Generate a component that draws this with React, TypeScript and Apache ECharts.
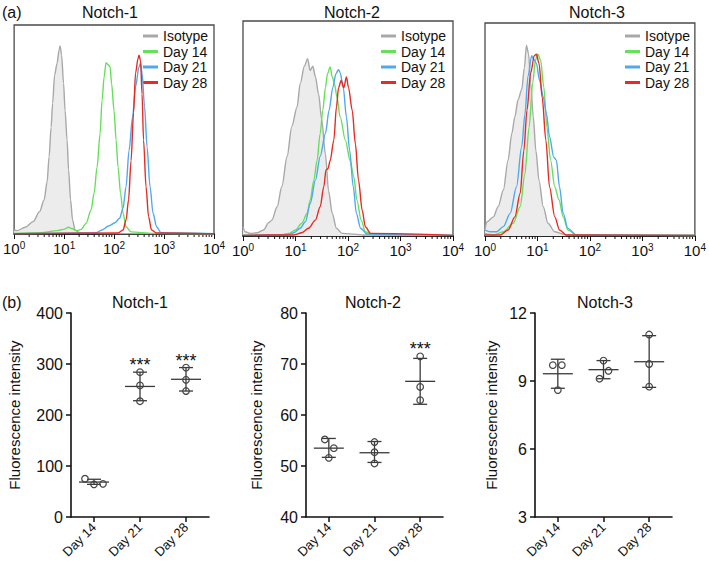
import React, { useEffect, useRef } from 'react';
import * as echarts from 'echarts';

const FONT = '"Liberation Sans", Arial, Helvetica, sans-serif';

// ---------- (a) flow cytometry histograms: [log10 fluorescence, % of max] ----------
const seriesNames = ['Isotype', 'Day 14', 'Day 21', 'Day 28'];
const seriesColors = ['#a8a8a8', '#66e05a', '#4fa8f0', '#e82a22'];
const panelTitles = ['Notch-1', 'Notch-2', 'Notch-3'];
const decadeTicks = [0, 1, 2, 3, 4];

const n1Isotype = [[0, 1.9], [0.06, 1.6], [0.22, 3.2], [0.38, 5.9], [0.51, 10.7], [0.6, 16.3], [0.66, 25], [0.7, 37], [0.74, 51], [0.77, 62.5], [0.81, 76], [0.86, 81.7], [0.9, 88], [0.92, 90], [0.95, 85.6], [0.99, 72], [1.02, 59], [1.06, 45], [1.09, 30.6], [1.13, 16.3], [1.17, 6.7], [1.22, 1.9], [1.31, 0.6], [1.82, 0.2], [4, 0.1]];
const n1Day14 = [[0, 0.3], [0.54, 0.6], [0.86, 1.6], [0.99, 2.2], [1.09, 3.2], [1.15, 2.6], [1.25, 1.6], [1.34, 2.2], [1.44, 5.1], [1.54, 11.5], [1.6, 19.5], [1.66, 32], [1.72, 48], [1.76, 64], [1.8, 75], [1.84, 82], [1.88, 81], [1.92, 80], [1.95, 72], [2.0, 59], [2.04, 45], [2.08, 32], [2.13, 19.5], [2.18, 10], [2.24, 3.5], [2.34, 1], [2.78, 0.3], [4, 0.1]];
const n1Day21 = [[0, 0.1], [1.63, 0.5], [1.76, 1.9], [1.89, 3.8], [2.02, 5.4], [2.11, 7.5], [2.18, 12.3], [2.24, 22.6], [2.3, 40], [2.37, 56], [2.43, 70.5], [2.5, 80], [2.53, 81.7], [2.56, 77], [2.61, 61], [2.66, 41.8], [2.72, 22.6], [2.78, 9.9], [2.85, 3.5], [2.94, 0.6], [4, 0.1]];
const n1Day28 = [[0, 0.1], [2.08, 0.5], [2.18, 1.9], [2.24, 6.7], [2.29, 16.3], [2.34, 35], [2.39, 58], [2.43, 77], [2.48, 84], [2.5, 85.6], [2.53, 83], [2.56, 67], [2.59, 45], [2.64, 22.6], [2.69, 8.3], [2.75, 1.9], [2.85, 0.5], [4, 0.1]];

const n2Isotype = [[0, 4.3], [0.04, 2], [0.14, 1.2], [0.27, 1.5], [0.39, 2.8], [0.49, 6.2], [0.55, 7.4], [0.65, 13.6], [0.74, 23], [0.84, 37], [0.93, 51], [1.03, 60], [1.09, 71], [1.17, 79], [1.23, 82.5], [1.28, 77], [1.33, 79], [1.38, 74], [1.44, 66], [1.5, 54], [1.57, 38], [1.63, 21], [1.7, 10.5], [1.78, 3.6], [1.89, 1.2], [2.3, 0.5], [4, 0.3]];
const n2Day14 = [[0, 0.3], [0.71, 0.5], [0.87, 1.2], [1.0, 2.8], [1.12, 5.9], [1.22, 10.5], [1.28, 16.7], [1.35, 26], [1.41, 35], [1.47, 47.7], [1.52, 58.5], [1.57, 69], [1.61, 75.5], [1.66, 78.6], [1.7, 74], [1.74, 71], [1.79, 64.7], [1.85, 55.4], [1.95, 44.6], [2.04, 35], [2.11, 27.6], [2.17, 16.7], [2.25, 7.4], [2.33, 2], [2.49, 0.5], [4, 0.3]];
const n2Day21 = [[0, 0.3], [0.84, 0.5], [0.97, 1.5], [1.09, 3.6], [1.19, 6.7], [1.28, 15], [1.38, 26], [1.47, 37], [1.57, 47.7], [1.64, 58.5], [1.71, 69], [1.77, 75.5], [1.82, 77.4], [1.85, 76], [1.91, 69], [1.97, 55.4], [2.03, 40], [2.1, 23], [2.16, 10.5], [2.24, 3.6], [2.36, 0.9], [4, 0.3]];
const n2Day28 = [[0, 0.3], [0.97, 0.5], [1.12, 1.5], [1.25, 3.6], [1.38, 7.4], [1.47, 13.6], [1.54, 23], [1.58, 30.7], [1.62, 31.4], [1.66, 35], [1.73, 44.6], [1.78, 60], [1.82, 69], [1.87, 72.4], [1.92, 69], [1.97, 74], [2.01, 69], [2.08, 58.5], [2.14, 43], [2.2, 26], [2.27, 12], [2.33, 4.3], [2.43, 1.2], [4, 0.3]];

const n3Isotype = [[0, 3], [0.04, 6.7], [0.16, 9], [0.25, 13.8], [0.35, 21.6], [0.44, 35.6], [0.51, 48], [0.57, 56], [0.63, 64], [0.7, 68.8], [0.75, 79], [0.79, 89.5], [0.83, 85.6], [0.87, 72], [0.92, 56], [0.97, 40], [1.03, 26], [1.11, 13.8], [1.2, 6], [1.33, 2], [1.55, 0.5], [4, 0.2]];
const n3Day14 = [[0, 1.2], [0.16, 0.5], [0.35, 2], [0.54, 6], [0.67, 13.8], [0.76, 29], [0.84, 51], [0.91, 72], [0.96, 82.5], [1.01, 85.3], [1.06, 82.5], [1.12, 70], [1.18, 51], [1.25, 35.6], [1.33, 23], [1.41, 17], [1.49, 9], [1.58, 2.8], [1.74, 0.5], [4, 0.2]];
const n3Day21 = [[0, 2.8], [0.1, 2], [0.22, 2], [0.35, 4.4], [0.48, 10.6], [0.6, 23], [0.7, 42], [0.76, 57], [0.82, 75], [0.89, 84.7], [0.93, 83], [0.98, 81], [1.04, 73], [1.11, 65.3], [1.17, 57.5], [1.23, 46.6], [1.31, 37], [1.36, 35.6], [1.42, 23], [1.49, 10.6], [1.58, 3.6], [1.74, 0.5], [4, 0.2]];
const n3Day28 = [[0, 0.5], [0.29, 0.5], [0.44, 2.8], [0.57, 9], [0.67, 20], [0.74, 40], [0.8, 59], [0.87, 76.5], [0.94, 84.7], [0.98, 85.3], [1.03, 81], [1.09, 65], [1.16, 45], [1.23, 23], [1.33, 9], [1.42, 2.8], [1.55, 0.5], [4, 0.2]];

const histPanels = [
  [n1Isotype, n1Day14, n1Day21, n1Day28],
  [n2Isotype, n2Day14, n2Day21, n2Day28],
  [n3Isotype, n3Day14, n3Day21, n3Day28],
];

// ---------- (b) fluorescence intensity dot plots ----------
const days = ['Day 14', 'Day 21', 'Day 28'];

const n1Points = [[75, 64, 65], [284, 258, 227], [293, 269, 247]];
const n1Mean = [68.5, 256, 270];
const n1Low = [64, 228, 247];
const n1High = [74, 284, 293];
const n1Sig = ['', '***', '***'];

const n2Points = [[55.2, 53.5, 51.6], [54.7, 52.7, 50.5], [71.5, 65.5, 62.9]];
const n2Mean = [53.5, 52.6, 66.6];
const n2Low = [51.7, 50.7, 62.1];
const n2High = [55.4, 54.8, 71.1];
const n2Sig = ['', '', '***'];

const n3Points = [[9.7, 9.7, 8.6], [9.9, 9.45, 9.1], [11.05, 9.75, 8.75]];
const n3Mean = [9.32, 9.5, 9.85];
const n3Low = [8.68, 9.1, 8.72];
const n3High = [9.96, 9.9, 11.0];
const n3Sig = ['', '', ''];

const n1Ticks = { min: 0, max: 400, interval: 100 };
const n2Ticks = { min: 40, max: 80, interval: 10 };
const n3Ticks = { min: 3, max: 12, interval: 3 };

// horizontal scatter of the open circles around each category (px)
const n1Jitter = [[-9, 0, 9], [0, 0, 0], [0, 0, 0]];
const n2Jitter = [[-4, 5, 0], [0, 0, 0], [0, 0, 0]];
const n3Jitter = [[-5, 4, 0], [0, 5, -4], [0, 0, 0]];

const dotPanels = [
  { points: n1Points, mean: n1Mean, low: n1Low, high: n1High, sig: n1Sig, ticks: n1Ticks, jitter: n1Jitter },
  { points: n2Points, mean: n2Mean, low: n2Low, high: n2High, sig: n2Sig, ticks: n2Ticks, jitter: n2Jitter },
  { points: n3Points, mean: n3Mean, low: n3Low, high: n3High, sig: n3Sig, ticks: n3Ticks, jitter: n3Jitter },
];

// ---------- layout ----------
const topGrids = [
  { left: 5, top: 25, width: 209, height: 209 },
  { left: 243, top: 21, width: 210, height: 215 },
  { left: 485, top: 23, width: 211, height: 213 },
];
const topTitleX = [110, 352, 597];
const legendLeft = [143, 381, 625];
const bottomGrids = [
  { left: 71, top: 313, width: 138, height: 204 },
  { left: 306, top: 313, width: 137, height: 204 },
  { left: 535, top: 313, width: 137, height: 204 },
];
const bottomTitleX = [140, 373, 605];
const yNameGap = [49, 42, 36];

export default function App() {
  const ref = useRef<HTMLDivElement>(null);

  useEffect(() => {
    const chart = echarts.init(ref.current!, null, { renderer: 'svg' });

    const minorTicks: number[] = [];
    for (let d = 0; d < 4; d++) {
      for (let k = 2; k <= 9; k++) minorTicks.push(d + Math.log10(k));
    }

    const grids: any[] = [];
    const xAxes: any[] = [];
    const yAxes: any[] = [];
    const series: any[] = [];
    const legends: any[] = [];

    // top histograms
    topGrids.forEach((g, i) => {
      grids.push({ ...g, show: true, borderColor: '#4a4a4a', borderWidth: 1.3, backgroundColor: 'transparent' });
      xAxes.push({
        type: 'value', gridIndex: i, min: 0, max: 4, interval: 1,
        axisLine: { show: true, lineStyle: { color: '#111', width: 1.5 } },
        axisTick: { show: true, length: 5, lineStyle: { color: '#111', width: 1 } },
        splitLine: { show: false },
        axisLabel: {
          margin: 6,
          formatter: (v: number) => (decadeTicks.includes(v) ? `{b|10}{s|${v}}` : ''),
          rich: {
            b: { fontSize: 15, fontFamily: FONT, color: '#111', lineHeight: 17 },
            s: { fontSize: 10, fontFamily: FONT, color: '#111', verticalAlign: 'top', lineHeight: 11 },
          },
        },
      });
      yAxes.push({ type: 'value', gridIndex: i, min: 0, max: 100, show: false });
      histPanels[i].forEach((data, s) => {
        series.push({
          type: 'line', name: seriesNames[s], xAxisIndex: i, yAxisIndex: i,
          data, symbol: 'none', showSymbol: false, smooth: 0.3, smoothMonotone: 'x',
          lineStyle: { color: seriesColors[s], width: 1.4 },
          itemStyle: { color: seriesColors[s] },
          areaStyle: s === 0 ? { color: '#ececec', opacity: 1 } : undefined,
          z: 2 + s, silent: true,
        });
      });
      series.push({
        type: 'custom', xAxisIndex: i, yAxisIndex: i, silent: true, clip: false,
        data: minorTicks.map((v) => [v, 0]),
        renderItem: (_p: any, api: any) => {
          const p = api.coord([api.value(0), 0]);
          return { type: 'line', shape: { x1: p[0], y1: p[1], x2: p[0], y2: p[1] + 3 }, style: { stroke: '#111', lineWidth: 1 } };
        },
      });
      legends.push({
        left: legendLeft[i], top: 29, orient: 'vertical', selectedMode: false, padding: 0,
        icon: 'rect', itemWidth: 15, itemHeight: 3, itemGap: 1.5,
        textStyle: { fontSize: 14, fontFamily: FONT, color: '#111', lineHeight: 14, padding: [0, 0, 0, 0] },
        data: seriesNames,
      });
    });

    // bottom dot plots
    dotPanels.forEach((p, k) => {
      const gi = 3 + k;
      grids.push({ ...bottomGrids[k] });
      xAxes.push({
        type: 'category', gridIndex: gi, data: days, boundaryGap: true,
        axisLine: { show: true, lineStyle: { color: '#111', width: 1.6 } },
        axisTick: { show: true, alignWithLabel: true, length: 5, lineStyle: { color: '#111', width: 1.5 } },
        axisLabel: { rotate: 45, fontSize: 13, fontFamily: FONT, color: '#111', margin: 8 },
      });
      yAxes.push({
        type: 'value', gridIndex: gi, min: p.ticks.min, max: p.ticks.max, interval: p.ticks.interval,
        name: 'Fluorescence intensity', nameLocation: 'middle', nameGap: yNameGap[k],
        nameTextStyle: { fontSize: 15, fontFamily: FONT, color: '#111' },
        axisLine: { show: true, lineStyle: { color: '#111', width: 1.6 } },
        axisTick: { show: true, length: 5, lineStyle: { color: '#111', width: 1.5 } },
        splitLine: { show: false },
        axisLabel: { fontSize: 16, fontFamily: FONT, color: '#111', margin: 8 },
      });
      // mean ± SD
      series.push({
        type: 'custom', xAxisIndex: gi, yAxisIndex: gi, silent: true, clip: false, z: 3,
        data: days.map((_d, j) => [j, p.mean[j], p.low[j], p.high[j]]),
        renderItem: (_pp: any, api: any) => {
          const x = api.value(0);
          const pm = api.coord([x, api.value(1)]);
          const pl = api.coord([x, api.value(2)]);
          const ph = api.coord([x, api.value(3)]);
          const st = { stroke: '#3a3a3a', lineWidth: 1.3 };
          return {
            type: 'group',
            children: [
              { type: 'line', shape: { x1: pl[0], y1: pl[1], x2: ph[0], y2: ph[1] }, style: st },
              { type: 'line', shape: { x1: pl[0] - 7, y1: pl[1], x2: pl[0] + 7, y2: pl[1] }, style: st },
              { type: 'line', shape: { x1: ph[0] - 7, y1: ph[1], x2: ph[0] + 7, y2: ph[1] }, style: st },
              { type: 'line', shape: { x1: pm[0] - 15, y1: pm[1], x2: pm[0] + 15, y2: pm[1] }, style: st },
            ],
          };
        },
      });
      // individual points
      const pts: number[][] = [];
      p.points.forEach((row, j) => row.forEach((v, m) => pts.push([j, v, p.jitter[j][m]])));
      series.push({
        type: 'custom', xAxisIndex: gi, yAxisIndex: gi, silent: true, clip: false, z: 4,
        data: pts,
        renderItem: (_pp: any, api: any) => {
          const c = api.coord([api.value(0), api.value(1)]);
          return { type: 'circle', shape: { cx: c[0] + api.value(2), cy: c[1], r: 3.3 }, style: { fill: 'rgba(255,255,255,0)', stroke: '#444', lineWidth: 1.2 } };
        },
      });
      // significance stars
      series.push({
        type: 'custom', xAxisIndex: gi, yAxisIndex: gi, silent: true, clip: false, z: 5,
        data: days.map((_d, j) => [j, Math.max(p.high[j], ...p.points[j])]),
        renderItem: (pp: any, api: any) => {
          const label = p.sig[pp.dataIndex];
          if (!label) return null;
          const c = api.coord([api.value(0), api.value(1)]);
          return {
            type: 'text', x: c[0], y: c[1] - 7,
            style: { text: label, fontSize: 18, fontFamily: FONT, fill: '#111', align: 'center', verticalAlign: 'middle' },
          };
        },
      });
    });

    const txt = (text: string, x: number, y: number, align: string, size = 16) => ({
      type: 'text', x, y,
      style: { text, fontSize: size, fontFamily: FONT, fill: '#111', align, verticalAlign: 'middle' },
    });

    const graphics: any[] = [
      txt('(a)', 2, 12, 'left'),
      txt('(b)', 2, 302, 'left'),
      ...panelTitles.map((t, i) => txt(t, topTitleX[i], 12, 'center')),
      ...panelTitles.map((t, i) => txt(t, bottomTitleX[i], 302, 'center')),
    ];

    chart.setOption({
      animation: false,
      backgroundColor: '#ffffff',
      textStyle: { fontFamily: FONT },
      grid: grids,
      xAxis: xAxes,
      yAxis: yAxes,
      legend: legends,
      series,
      graphic: graphics,
    });

    return () => chart.dispose();
  }, []);

  return <div ref={ref} style={{ position: 'fixed', left: 0, top: 0, width: 709, height: 568, background: '#fff' }} />;
}
